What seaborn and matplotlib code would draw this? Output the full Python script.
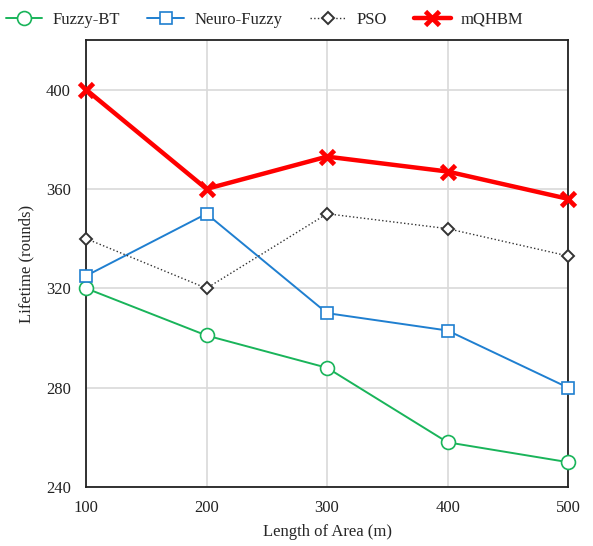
import matplotlib
matplotlib.use("Agg")
import matplotlib.pyplot as plt
import seaborn as sns
import pandas as pd

# data
lengths = [100, 200, 300, 400, 500]
fuzzy_bt = [320, 301, 288, 258, 250]
neuro_fuzzy = [325, 350, 310, 303, 280]
pso = [340, 320, 350, 344, 333]
mqhbm = [400, 360, 373, 367, 356]
y_ticks = [240, 280, 320, 360, 400]

sns.set_style("white")
plt.rcParams['font.family'] = ['Liberation Serif', 'DejaVu Serif']

df = pd.DataFrame({
    'length': lengths * 4,
    'lifetime': fuzzy_bt + neuro_fuzzy + pso + mqhbm,
    'method': ['Fuzzy-BT'] * 5 + ['Neuro-Fuzzy'] * 5 + ['PSO'] * 5 + ['mQHBM'] * 5,
})

styles = {
    'Fuzzy-BT': dict(color='#19b45a', marker='o', ms=10, lw=1.4, ls='-', mfc='white', mew=1.2),
    'Neuro-Fuzzy': dict(color='#1f7fd0', marker='s', ms=9, lw=1.4, ls='-', mfc='white', mew=1.2),
    'PSO': dict(color='#333333', marker='D', ms=6.5, lw=1.0, ls=':', mfc='white', mew=1.4),
    'mQHBM': dict(color='#ff0000', marker='x', ms=10, lw=3.2, ls='-', mfc='none', mew=3.4),
}

fig = plt.figure(figsize=(5.93, 5.46), dpi=100)
ax = fig.add_axes([0.145, 0.108, 0.813, 0.819])

for name, st in styles.items():
    sub = df[df['method'] == name]
    sns.lineplot(data=sub, x='length', y='lifetime', ax=ax, label=name,
                 color=st['color'], marker=st['marker'], markersize=st['ms'],
                 linewidth=st['lw'], linestyle=st['ls'],
                 markerfacecolor=st['mfc'], markeredgecolor=st['color'],
                 markeredgewidth=st['mew'], clip_on=False, zorder=3)

ax.set_xlim(100, 500)
ax.set_ylim(240, 420)
ax.set_xticks(lengths)
ax.set_yticks(y_ticks)
ax.grid(True, color='#d9d9d9', lw=1.2)
ax.set_axisbelow(True)
for sp in ax.spines.values():
    sp.set_color('#222222')
    sp.set_linewidth(1.3)
ax.tick_params(axis='both', labelsize=12, colors='#222222', direction='in', length=5, width=1.2)
ax.tick_params(axis='x', pad=9)
ax.tick_params(axis='y', left=False, pad=11)
ax.set_xlabel('Length of Area (m)', fontsize=12, labelpad=6)
ax.set_ylabel('Lifetime (rounds)', fontsize=12, labelpad=8)

fig.legend(loc='upper left', bbox_to_anchor=(-0.01, 1.0), ncol=4, frameon=False,
           fontsize=12, handlelength=2.2, columnspacing=1.65, handletextpad=0.6,
           borderaxespad=0.3)
ax.get_legend().remove()

fig.savefig('out.png', dpi=100)
